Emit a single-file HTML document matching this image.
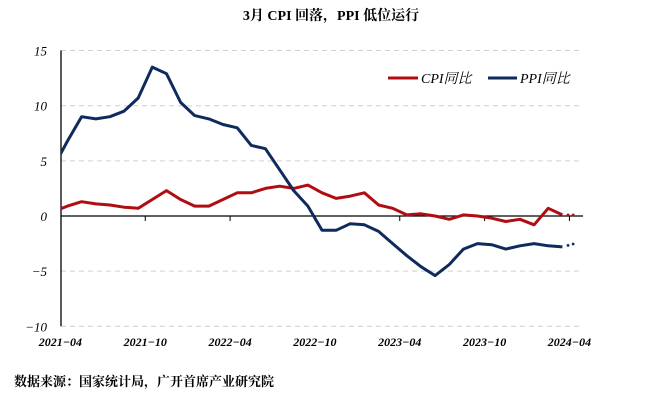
<!DOCTYPE html>
<html><head><meta charset="utf-8"><style>
body{margin:0;background:#fff;}
svg text{font-family:"Liberation Serif","Noto Serif CJK SC",serif;}
</style></head><body>
<svg width="662" height="401" xmlns="http://www.w3.org/2000/svg">
<text x="331" y="20" text-anchor="middle" font-size="14" font-weight="bold">3月 CPI 回落，PPI 低位运行</text>
<g id="grid"></g><g id="axes"></g><g id="series"></g>
<g>
<line x1="388" y1="78" x2="418" y2="78" stroke="#B00D12" stroke-width="3"/>
<text x="421" y="83" font-size="14" font-style="italic">CPI同比</text>
<line x1="488" y1="78" x2="517" y2="78" stroke="#0F2A5C" stroke-width="3"/>
<text x="520" y="83" font-size="14" font-style="italic">PPI同比</text>
</g>
<text x="14" y="386" font-size="13" font-weight="bold">数据来源：国家统计局，广开首席产业研究院</text>
</svg>
<script>
// months starting 2021-03 (index -1 relative to 2021-04)
const cpiValues=[0.4,0.9,1.3,1.1,1.0,0.8,0.7,1.5,2.3,1.5,0.9,0.9,1.5,2.1,2.1,2.5,2.7,2.5,2.8,2.1,1.6,1.8,2.1,1.0,0.7,0.1,0.2,0.0,-0.3,0.1,0.0,-0.2,-0.5,-0.3,-0.8,0.7,0.1];
const ppiValues=[4.4,6.8,9.0,8.8,9.0,9.5,10.7,13.5,12.9,10.3,9.1,8.8,8.3,8.0,6.4,6.1,4.2,2.3,0.9,-1.3,-1.3,-0.7,-0.8,-1.4,-2.5,-3.6,-4.6,-5.4,-4.4,-3.0,-2.5,-2.6,-3.0,-2.7,-2.5,-2.7,-2.8];
const yTicks=[15,10,5,0,-5,-10];
const xTickLabels=["2021-04","2021-10","2022-04","2022-10","2023-04","2023-10","2024-04"];
const NS="http://www.w3.org/2000/svg";
const L=61,R=583,step=14.14;
function xs(k){return 60.4+(k+0.5)*step;}      // k months from 2021-04
function xt(k){return 60.4+k*step;}
function ys(v){return 216-v*11.03;}
function mk(tag,attrs,parent,text){const e=document.createElementNS(NS,tag);for(const a in attrs)e.setAttribute(a,attrs[a]);if(text!==undefined)e.textContent=text;document.getElementById(parent).appendChild(e);return e;}
yTicks.forEach(v=>{
  if(v!==0){const g=mk('line',{x1:L,x2:R,y1:ys(v),y2:ys(v),stroke:'#d0d0d0','stroke-dasharray':'5,4'},'grid');
  
  }
  const t=mk('text',{x:47,y:ys(v)+5,'text-anchor':'end','font-size':'13','font-style':'italic'},'axes',String(v).replace('-','−'));
  
  
});
const ya=mk('line',{x1:L,x2:L,y1:ys(15),y2:ys(-10),stroke:'#000','stroke-width':1.3},'axes');


const xa=mk('line',{x1:L,x2:R,y1:ys(0),y2:ys(0),stroke:'#000','stroke-width':1.3},'axes');


xTickLabels.forEach((lab,i)=>{
  const x=xt(i*6);
  if(i>0){const tk=mk('line',{x1:x,x2:x,y1:ys(0),y2:ys(0)+5,stroke:'#000'},'axes');
  
  }
  const t=mk('text',{x:x,y:346,'text-anchor':'middle','font-size':'12','font-style':'italic','font-weight':'bold'},'axes',lab.replace('-','−'));
  
  
});
mk('clipPath',{id:'cp'},'series');
mk('rect',{x:L,y:0,width:R-L,height:401},'series');
document.getElementById('cp').appendChild(document.getElementById('series').lastChild);
function drawSeries(vals,color,name){
  const pts=vals.map((v,i)=>xs(i-1).toFixed(1)+','+ys(v).toFixed(1)).join(' ');
  const p=mk('polyline',{points:pts,fill:'none',stroke:color,'stroke-width':3,'stroke-linejoin':'round','clip-path':'url(#cp)'},'series');
  
  
  const last=vals[vals.length-1];
  [0.5,0.95].forEach(f=>{
    const d=mk('circle',{cx:xs(vals.length-2)+f*step*0.8,cy:ys(last)+(name==='ppi-line'?-f*3:0),r:1.4,fill:color},'series');
    
    
  });
}
drawSeries(cpiValues,'#B00D12','cpi-line');
drawSeries(ppiValues,'#0F2A5C','ppi-line');
</script>
</body></html>
